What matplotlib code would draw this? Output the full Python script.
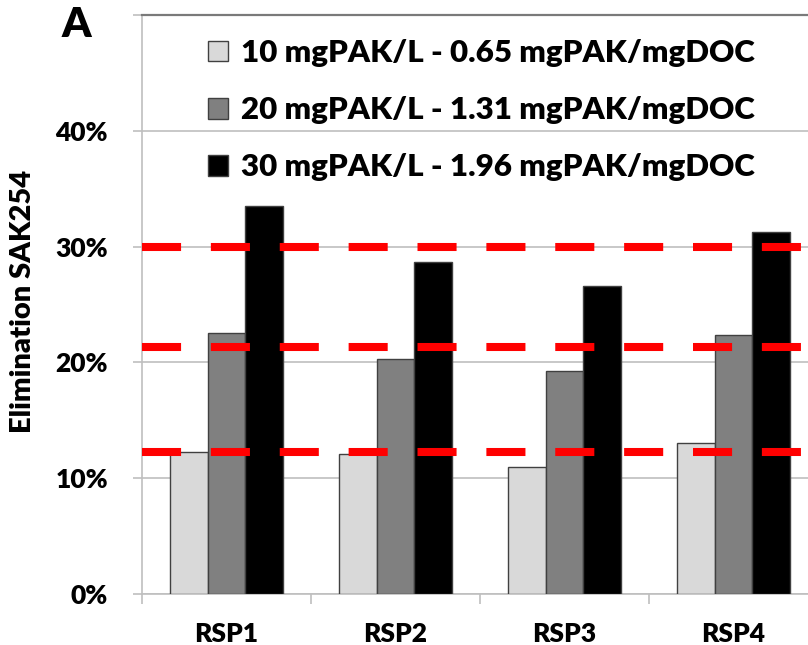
import numpy as np
import matplotlib
matplotlib.use("Agg")
import matplotlib.pyplot as plt
from matplotlib.ticker import PercentFormatter

plt.rcParams.update({"font.family": ["Lato", "DejaVu Sans"], "font.weight": "heavy",
                     "axes.labelweight": "heavy",
                     "xtick.labelsize": 19, "ytick.labelsize": 19})

categories = ["RSP1", "RSP2", "RSP3", "RSP4"]
series = ["10 mgPAK/L - 0.65 mgPAK/mgDOC",
          "20 mgPAK/L - 1.31 mgPAK/mgDOC",
          "30 mgPAK/L - 1.96 mgPAK/mgDOC"]
low = [0.123, 0.121, 0.110, 0.130]
mid = [0.225, 0.203, 0.193, 0.224]
high = [0.335, 0.287, 0.266, 0.313]
ref_lines = [0.123, 0.213, 0.300]

COLORS = ["#d9d9d9", "#808080", "#000000"]
GRID = "#bfbfbf"

fig = plt.figure(figsize=(8.08, 6.45), dpi=100)
ax = fig.add_axes([0.1757, 0.0791, 0.8366, 0.8976])

x = np.arange(len(categories))
w = 0.222
for i, (vals, col, lab) in enumerate(zip([low, mid, high], COLORS, series)):
    ax.bar(x + (i - 1) * w, vals, width=w, color=col, edgecolor="#404040",
           linewidth=1.0, label=lab, zorder=3)

for v in ref_lines:
    ax.axhline(v, color="#ff0000", lw=5.8, linestyle=(0, (4.85, 3.7)),
               dash_capstyle="butt", zorder=4)

ax.set_xlim(-0.5, 3.5)
ax.set_ylim(0, 0.5)
ax.set_yticks([0, 0.1, 0.2, 0.3, 0.4, 0.5])
ax.yaxis.set_major_formatter(PercentFormatter(1.0, decimals=0))
ax.yaxis.grid(True, color=GRID, lw=1.2, zorder=0)
ax.set_xticks(x)
ax.set_xticklabels(categories)
ax.set_xticks([-0.5, 0.5, 1.5, 2.5], minor=True)
ax.tick_params(axis="x", which="major", length=0, pad=20)
ax.tick_params(axis="x", which="minor", length=7, color=GRID, width=1.2)
ax.tick_params(axis="y", length=6.5, color=GRID, width=1.2, pad=18)
fig.canvas.draw()
for lbl in ax.get_yticklabels():
    if lbl.get_text() == "50%":
        lbl.set_visible(False)
ax.spines["right"].set_visible(False)
ax.spines["top"].set_color("#7a7a7a")
ax.spines["top"].set_linewidth(1.6)
for s in ["left", "bottom"]:
    ax.spines[s].set_color(GRID)
    ax.spines[s].set_linewidth(1.2)

ax.set_ylabel("Elimination SAK254", fontsize=21, labelpad=10)
ax.yaxis.set_label_coords(-0.157, 0.505)
fig.text(0.095, 0.961, "A", fontsize=30, ha="center", va="center")

leg = ax.legend(loc="upper left", bbox_to_anchor=(208 / 808, 1 - 39 / 645),
                bbox_transform=fig.transFigure, frameon=False, borderpad=0,
                borderaxespad=0, prop={"size": 22.5},
                handlelength=0.65, handleheight=0.65, handletextpad=0.4,
                labelspacing=0.93)
for h in leg.legend_handles:
    h.set_edgecolor("#404040")

fig.savefig("out.png", dpi=100)
